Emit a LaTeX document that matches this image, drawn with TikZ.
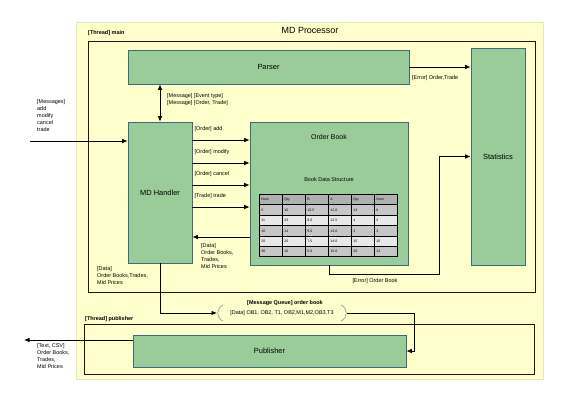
\documentclass[tikz,border=0pt]{standalone}
\usepackage{fontspec}
\setmainfont{Liberation Sans}
\usetikzlibrary{arrows.meta}
\definecolor{paneyellow}{HTML}{FFFFCC}
\definecolor{paneline}{HTML}{E6E6BE}
\definecolor{boxgreen}{HTML}{99CC99}
\definecolor{boxline}{HTML}{3D6B7A}
\definecolor{threadline}{HTML}{3A0A0A}
\definecolor{cellhead}{HTML}{B0B0B0}
\definecolor{celldark}{HTML}{C6C6C6}
\definecolor{celllight}{HTML}{E8E8E8}

\begin{document}
\begin{tikzpicture}[x=1bp, y=-1bp, >={Latex[length=5.5bp,width=4.5bp]},
	every node/.style={font=\fontsize{5.5}{7}\selectfont, inner sep=0pt},
	block/.style={draw=boxline, fill=boxgreen, line width=0.6bp, font=\fontsize{7.5}{9}\selectfont},
	thread/.style={draw=threadline, line width=0.8bp},
	flow/.style={->, line width=0.8bp},
	tag/.style={anchor=north west, align=left},
	cell/.style={draw, line width=0.8bp, minimum width=23bp, minimum height=10.4bp, anchor=north west,
		text width=19bp, align=left, font=\fontsize{3.5}{4}\selectfont}]
	\useasboundingbox (0,0) rectangle (567,401);
	\filldraw[fill=paneyellow, draw=paneline] (76,22) rectangle (543,379);
	\node[font=\fontsize{9}{11}\selectfont] (title) at (310,30) {MD Processor};
	\draw[thread] (88,41) rectangle (535,292);
	\node[anchor=west, font=\fontsize{5.5}{7}\bfseries] (mainlbl) at (88,33) {[Thread] main};
	\draw[thread] (84,324) rectangle (534,374);
	\node[anchor=west, font=\fontsize{5.5}{7}\bfseries] (publbl) at (85,319) {[Thread] publisher};

	\node[block, minimum width=281bp, minimum height=34bp] (parser) at (268.5,67) {Parser};
	\node[block, minimum width=54bp, minimum height=217bp] (stats) at (498,156.5) {Statistics};
	\node[block, minimum width=64bp, minimum height=141bp] (handler) at (160,192.5) {MD Handler};
	\node[block, minimum width=158bp, minimum height=143bp] (book) at (329,193.5) {};
	\node[font=\fontsize{7}{8}\selectfont] (booktitle) at (329,137) {Order Book};
	\node (bookds) at (329,180) {Book Data Structure};
	\node[block, minimum width=273bp, minimum height=32bp] (publisher) at (269.5,351) {Publisher};

	% book data structure
	\foreach \r/\shade/\vals in {0/cellhead/{Num,Qty,B,A,Qty,Num},
			1/celldark/{5,10,10.5,12.0,13,8}, 2/celllight/{11,23,9.0,12.5,4,2},
			3/celldark/{16,14,9.0,13.0,3,3}, 4/celllight/{20,20,7.5,14.0,15,10},
			5/celldark/{30,10,5.0,15.0,20,12}}
		\foreach \v [count=\c from 0] in \vals
			\node[cell, fill=\shade] (cell-\r-\c) at (259+23*\c, 194+10.4*\r) {\v};

	% inputs and outputs
	\coordinate (msgin) at (30,141);
	\draw[flow] (msgin) -- (handler.west |- msgin);
	\node[tag] (msglbl) at (37,99) {[Messages]\\add\\modify\\cancel\\trade};
	\draw[flow, <->] (handler.north |- parser.south) -- (handler.north);
	\node[tag] (evtlbl) at (167,93) {[Message] [Event type]\\{}[Message] [Order, Trade]};
	\foreach \y/\lab in {140/{[Order] add}, 163/{[Order] modify}, 185/{[Order] cancel}, 207/{[Trade] trade}}
		\draw[flow] (handler.east |- 0,\y) -- (book.west |- 0,\y)
			node[pos=0, anchor=south west, xshift=2bp, yshift=8bp] (ordlbl-\y) {\lab};
	\draw[flow] (book.west |- 0,237) -- (handler.east |- 0,237);
	\node[tag] (datalbl) at (201,243) {[Data]\\Order Books,\\Trades,\\Mid Prices};
	\draw[flow] (parser.east) -- (parser.east -| stats.west);
	\node[anchor=west] (errlbl) at (412,78) {[Error] Order,Trade};
	\draw[flow] (book.south) |- (439,274) |- (stats.west);
	\node (booklbl) at (375,281) {[Error] Order Book};

	% message queue
	\node[font=\fontsize{5.5}{7}\bfseries] (mqlbl) at (285,303) {[Message Queue] order book};
	\node (queue) at (282,313) {[Data] OB1, OB2, T1, OB2,M1,M2,OB3,T3};
	\coordinate (qin) at (217,313);
	\coordinate (qout) at (347,313);
	\draw[black!35, line width=0.8bp] (223,305) .. controls (216,308) and (216,318) .. (223,321);
	\draw[black!35, line width=0.8bp] (341,305) .. controls (348,308) and (348,318) .. (341,321);
	\draw[flow] (handler.south) |- (qin);
	\node[tag] (hdatalbl) at (97,266) {[Data]\\Order Books,Trades,\\Mid Prices};
	\draw[flow] (qout) -| ([xshift=8bp]publisher.east) -- (publisher.east);
	\coordinate (csvout) at (24,340);
	\draw[flow] (publisher.west |- csvout) -- (csvout);
	\node[tag] (csvlbl) at (37,343) {[Text, CSV]\\Order Books,\\Trades,\\Mid Prices};
\end{tikzpicture}
\end{document}
